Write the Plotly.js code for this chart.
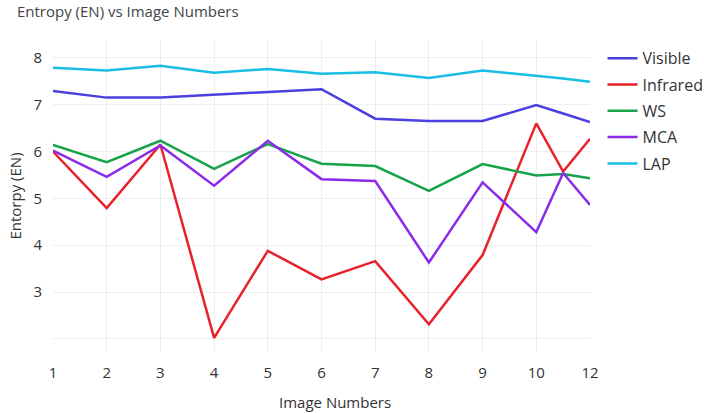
<!DOCTYPE html>
<html>
<head>
<meta charset="utf-8">
<script src="https://cdn.plot.ly/plotly-3.0.1.min.js"></script>
<style>html,body{margin:0;padding:0;background:#fff;}#chart{width:708px;height:413px;}</style>
</head>
<body>
<div id="chart"></div>
<script>
// Horizontal position of each image (the 11th point sits between ticks "10" and "12")
const xValues = [1, 2, 3, 4, 5, 6, 7, 8, 9, 10, 10.5, 11];
const xTickVals = [1, 2, 3, 4, 5, 6, 7, 8, 9, 10, 11];
const xTickText = ['1', '2', '3', '4', '5', '6', '7', '8', '9', '10', '12'];
const yTickVals = [2, 3, 4, 5, 6, 7, 8];
const yTickText = ['', '3', '4', '5', '6', '7', '8'];

const visible  = [7.29, 7.15, 7.15, 7.21, 7.28, 7.33, 6.70, 6.65, 6.65, 6.99, 6.81, 6.63];
const infrared = [6.00, 4.79, 6.15, 2.02, 3.88, 3.27, 3.66, 2.31, 3.79, 6.60, 5.57, 6.27];
const ws       = [6.14, 5.77, 6.23, 5.63, 6.16, 5.74, 5.69, 5.16, 5.73, 5.49, 5.52, 5.43];
const mca      = [6.02, 5.46, 6.13, 5.27, 6.23, 5.41, 5.37, 3.63, 5.34, 4.28, 5.54, 4.86];
const lap      = [7.79, 7.73, 7.83, 7.68, 7.76, 7.66, 7.69, 7.57, 7.73, 7.62, 7.56, 7.49];

const seriesNames = ['Visible', 'Infrared', 'WS', 'MCA', 'LAP'];
const seriesValues = [visible, infrared, ws, mca, lap];
const seriesColors = ['#4a3fe0', '#e8222b', '#16a34a', '#8b2be8', '#18bfe3'];

const traces = seriesNames.map((name, i) => ({
  type: 'scatter',
  mode: 'lines',
  name: name,
  legendgroup: name,
  x: xValues,
  y: seriesValues[i],
  line: {color: seriesColors[i], width: 2.5}
}));

const layout = {
  width: 708,
  height: 413,
  margin: {l: 53, r: 118, t: 40, b: 61},
  paper_bgcolor: '#ffffff',
  plot_bgcolor: '#ffffff',
  font: {family: '"Open Sans", "Noto Sans", sans-serif', size: 15, color: '#333'},
  title: {
    text: 'Entropy (EN) vs Image Numbers',
    x: 0.024, xanchor: 'left',
    y: 0.985, yanchor: 'top',
    font: {size: 15, color: '#444'}
  },
  xaxis: {
    range: [1, 11],
    tickmode: 'array',
    tickvals: xTickVals,
    ticktext: xTickText,
    tickfont: {size: 15, color: '#333'},
    ticklabelstandoff: 10,
    automargin: false,
    showgrid: true,
    gridcolor: '#eeeeee',
    zeroline: false,
    showline: false,
    ticks: ''
  },
  yaxis: {
    title: {text: 'Entorpy (EN)', font: {size: 15, color: '#333'}, standoff: 8},
    range: [1.72, 8.38],
    tickmode: 'array',
    tickvals: yTickVals,
    ticktext: yTickText,
    tickfont: {size: 15, color: '#333'},
    ticklabelstandoff: 10,
    automargin: false,
    showgrid: true,
    gridcolor: '#eeeeee',
    zeroline: false,
    showline: false,
    ticks: ''
  },
  annotations: [{
    text: 'Image Numbers',
    xref: 'paper', yref: 'paper',
    x: 0.525, xanchor: 'center',
    y: -0.16, yanchor: 'middle',
    showarrow: false,
    font: {size: 15, color: '#333'}
  }],
  legend: {
    xref: 'container', yref: 'container',
    x: 0.851, xanchor: 'left',
    y: 0.9, yanchor: 'top',
    font: {size: 16, color: '#333'},
    traceorder: 'grouped',
    tracegroupgap: 2.5
  },
  showlegend: true
};

Plotly.newPlot('chart', traces, layout, {displayModeBar: false, responsive: false});
</script>
</body>
</html>
